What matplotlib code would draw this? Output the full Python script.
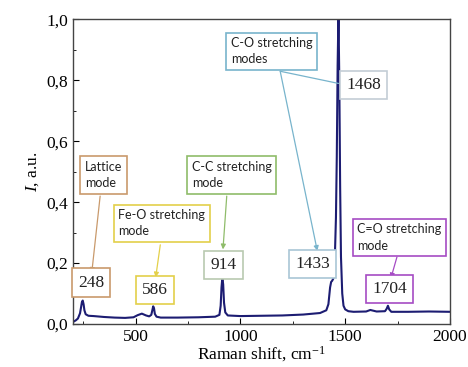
import matplotlib
matplotlib.use("Agg")
import matplotlib.pyplot as plt

# Raman spectrum
shift = [205, 215, 225, 235, 240, 244, 248, 252, 256, 262, 275, 300, 350, 400, 450,
         490, 510, 530, 550, 565, 575, 580, 584, 588, 592, 600, 620, 700, 800, 880,
         900, 906, 910, 914, 918, 922, 928, 940, 1000, 1100, 1200, 1300, 1380, 1410,
         1420, 1428, 1433, 1438, 1444, 1450, 1456, 1460, 1464, 1468, 1472, 1476, 1480,
         1486, 1492, 1500, 1515, 1540, 1600, 1620, 1650, 1690, 1698, 1704, 1710, 1720,
         1800, 1900, 2000]
intensity = [0.008, 0.012, 0.018, 0.035, 0.055, 0.072, 0.077, 0.065, 0.045, 0.032, 0.027,
             0.026, 0.023, 0.021, 0.020, 0.022, 0.029, 0.034, 0.028, 0.025, 0.030, 0.045,
             0.058, 0.052, 0.033, 0.024, 0.021, 0.021, 0.022, 0.024, 0.030, 0.060, 0.120,
             0.152, 0.130, 0.070, 0.038, 0.028, 0.026, 0.027, 0.028, 0.031, 0.036, 0.045,
             0.065, 0.120, 0.138, 0.142, 0.150, 0.200, 0.350, 0.550, 0.850, 1.020, 0.800,
             0.450, 0.220, 0.100, 0.060, 0.048, 0.042, 0.040, 0.041, 0.046, 0.041, 0.042,
             0.050, 0.060, 0.048, 0.040, 0.040, 0.041, 0.040]

peak_labels = ["248", "586", "914", "1433", "1468", "1704"]
mode_labels = ["Lattice\nmode", "Fe-O stretching\nmode", "C-C stretching\nmode",
               "C-O stretching\nmodes", "C=O stretching\nmode"]

serif = "Liberation Serif"
sans = "Lato"
plt.rcParams["mathtext.fontset"] = "custom"
plt.rcParams["mathtext.rm"] = serif
plt.rcParams["mathtext.it"] = serif + ":italic"

fig = plt.figure(figsize=(4.68, 3.67), dpi=100)
ax = fig.add_axes([0.1553, 0.1172, 0.8062, 0.8297])

ax.plot(shift, intensity, color="#1c1c72", lw=1.5)
ax.set_xlim(200, 2000)
ax.set_ylim(0, 1.0)
ax.set_xticks([500, 1000, 1500, 2000])
ax.set_xticks([250, 750, 1250, 1750], minor=True)
ax.set_yticks([0, 0.2, 0.4, 0.6, 0.8, 1.0])
ax.set_yticks([0.1, 0.3, 0.5, 0.7, 0.9], minor=True)
ax.set_yticklabels([f"{v:.1f}".replace(".", ",") for v in [0, 0.2, 0.4, 0.6, 0.8, 1.0]])
ax.tick_params(direction="in", which="both", top=False, right=False, labelsize=12.5)
ax.tick_params(which="major", length=4)
ax.tick_params(which="minor", length=2.5)
for lab in ax.get_xticklabels() + ax.get_yticklabels():
    lab.set_fontfamily(serif)
for sp in ax.spines.values():
    sp.set_color("#444444")
    sp.set_linewidth(1.0)

ax.set_xlabel("Raman shift, cm$^{-1}$", fontfamily=serif, fontsize=12.5, labelpad=0)
ax.set_ylabel("$I$, a.u.", fontfamily=serif, fontsize=12.5, labelpad=4)


def box(x, y, s, edge, family, size):
    ax.text(x, y, s, ha="center", va="center", multialignment="left",
            fontfamily=family, fontsize=size, color="#222222", linespacing=1.45,
            bbox=dict(boxstyle="square,pad=0.35", fc="white", ec=edge, lw=1.2))


def arrow(x0, y0, x1, y1, c, head=True):
    ax.annotate("", xy=(x1, y1), xytext=(x0, y0),
                arrowprops=dict(arrowstyle="-|>" if head else "-", color=c, lw=0.9,
                                mutation_scale=7, shrinkA=0, shrinkB=0))


tan, yellow, green, blue, purple = "#c99a6c", "#e3d04a", "#8fbc6a", "#78b4cc", "#a64cc4"

# arrows first so boxes sit on top
arrow(331, 0.42, 291, 0.168, tan)
arrow(618, 0.26, 596, 0.153, yellow)
arrow(935, 0.42, 917, 0.245, green)
arrow(1190, 0.83, 1367, 0.24, blue)
arrow(1190, 0.83, 1468, 0.79, blue, head=False)
arrow(1747, 0.22, 1718, 0.15, purple)

box(347, 0.489, mode_labels[0], tan, sans, 9)
box(288, 0.136, peak_labels[0], tan, serif, 12.5)
box(625, 0.331, mode_labels[1], yellow, sans, 9)
box(592, 0.111, peak_labels[1], yellow, serif, 12.5)
box(958, 0.489, mode_labels[2], green, sans, 9)
box(919, 0.195, peak_labels[2], "#b9c9b0", serif, 12.5)
box(1149, 0.896, mode_labels[3], blue, sans, 9)
box(1587, 0.785, peak_labels[4], "#c3cdd6", serif, 12.5)
box(1345, 0.197, peak_labels[3], "#a9c6d6", serif, 12.5)
box(1757, 0.284, mode_labels[4], purple, sans, 9)
box(1712, 0.114, peak_labels[5], purple, serif, 12.5)

fig.savefig("out.png", dpi=100)
